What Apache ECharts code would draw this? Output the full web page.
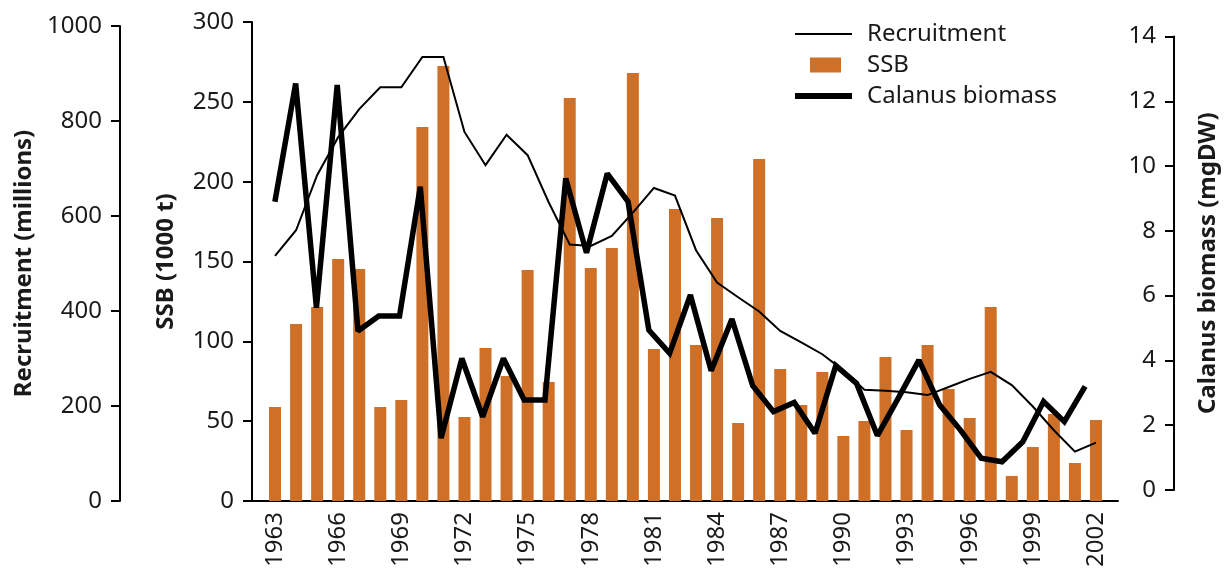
<!DOCTYPE html>
<html>
<head>
<meta charset="utf-8">
<script src="https://cdn.jsdelivr.net/npm/echarts@6/dist/echarts.min.js"></script>
<style>
html,body{margin:0;padding:0;background:#fff;}
#c{width:1228px;height:572px;}
</style>
</head>
<body>
<div id="c"></div>
<script>
const years = ['1963','1964','1965','1966','1967','1968','1969','1970','1971','1972',
  '1973','1974','1975','1976','1977','1978','1979','1980','1981','1982',
  '1983','1984','1985','1986','1987','1988','1989','1990','1991','1992',
  '1993','1994','1995','1996','1997','1998','1999','2000','2001','2002'];
const ssb = [58.9,110.9,121.5,151.6,145.3,58.9,63.3,234.2,272.4,52.6,
  95.8,78.3,144.7,74.5,252.4,145.9,158.5,268.1,95.2,182.9,
  97.7,177.2,48.9,214.2,82.7,60.1,80.8,40.7,50.1,90.2,
  44.5,97.7,70.1,52.0,121.5,15.7,33.8,54.5,23.8,50.7];
const recruitment = [516,570,686,766,825,871,871,935,935,777,
  707,771,728,629,540,537,558,607,659,643,
  528,460,429,399,358,334,309,275,234,232,
  229,223,240,257,272,244,199,149,104,123];
const calanus = [8.90,12.55,5.63,12.50,4.91,5.37,5.37,9.36,1.60,4.06,
  2.26,4.06,2.78,2.78,9.62,7.32,9.77,8.90,4.94,4.22,
  6.02,3.68,5.28,3.22,2.42,2.70,1.75,3.84,3.29,1.68,
  2.83,4.01,2.62,1.85,0.98,0.87,1.49,2.73,2.11,3.20];
const names = {rec:'Recruitment', ssb:'SSB', cal:'Calanus biomass'};
const axisTitles = {rec:'Recruitment (millions)', ssb:'SSB (1000 t)', cal:'Calanus biomass (mgDW)'};

const FONT = '"Noto Sans", "Open Sans", sans-serif';
const TXT = '#1a1a1a';
const ORANGE = '#CF7029';
const gl = 264.5, gr = 121.5;
const plain = (v) => String(v);

const hiddenX = (gi) => ({type:'category', gridIndex:gi, data:years, boundaryGap:true, show:false});
const yCommon = {
  axisLine:{show:true, lineStyle:{color:'#000', width:2}},
  axisTick:{show:true, length:9, lineStyle:{color:'#000', width:2}},
  splitLine:{show:false},
  axisLabel:{fontFamily:FONT, fontSize:24, color:TXT, margin:18, formatter:plain},
  nameLocation:'middle', nameRotate:90,
  nameTextStyle:{fontFamily:FONT, fontSize:24, fontWeight:'bold', color:TXT}
};

const chart = echarts.init(document.getElementById('c'), null, {renderer:'canvas'});
chart.setOption({
  animation:false,
  backgroundColor:'#fff',
  grid:[
    {left:gl, right:gr, top:22, bottom:71},
    {left:252, right:110, top:22, bottom:71},
    {left:gl, right:gr, top:26, bottom:71},
    {left:gl, right:gr, top:36.5, bottom:82}
  ],
  xAxis:[
    {type:'category', gridIndex:0, data:years, boundaryGap:true,
     axisLine:{show:false}, axisTick:{show:false},
     axisLabel:{interval:2, rotate:90, fontFamily:FONT, fontSize:24, color:TXT, margin:11}},
    {type:'category', gridIndex:1, data:years, boundaryGap:true,
     axisLine:{show:true, lineStyle:{color:'#000', width:2}}, axisTick:{show:false}, axisLabel:{show:false}},
    hiddenX(2), hiddenX(3)
  ],
  yAxis:[
    Object.assign({}, yCommon, {type:'value', gridIndex:0, min:0, max:300, interval:50, position:'left', offset:12.5,
      name:axisTitles.ssb, nameGap:74}),
    {type:'value', gridIndex:1, show:false},
    Object.assign({}, yCommon, {type:'value', gridIndex:2, min:0, max:1000, interval:200, position:'left', offset:144.5,
      name:axisTitles.rec, nameGap:82}),
    Object.assign({}, yCommon, {type:'value', gridIndex:3, min:0, max:14, interval:2, position:'right', offset:78.5,
      axisTick:{show:true, inside:true, length:9, lineStyle:{color:'#000', width:2}},
      axisLabel:{inside:true, fontFamily:FONT, fontSize:24, color:TXT, margin:18, formatter:plain},
      name:axisTitles.cal, nameGap:22})
  ],
  legend:[
    {data:[names.rec], left:790, top:15, itemWidth:57, itemHeight:2, icon:'rect', selectedMode:false,
     textStyle:{fontFamily:FONT, fontSize:24, color:TXT, lineHeight:28, padding:[0,0,0,10]}},
    {data:[names.ssb], left:805, top:46, itemWidth:31, itemHeight:15, icon:'rect', selectedMode:false,
     textStyle:{fontFamily:FONT, fontSize:24, color:TXT, lineHeight:28, padding:[0,0,0,21]}},
    {data:[names.cal], left:790, top:77, itemWidth:57, itemHeight:6, icon:'rect', selectedMode:false,
     textStyle:{fontFamily:FONT, fontSize:24, color:TXT, lineHeight:28, padding:[0,0,0,10]}}
  ],
  series:[
    {name:names.ssb, type:'bar', xAxisIndex:0, yAxisIndex:0, data:ssb, barWidth:12,
     itemStyle:{color:ORANGE}, z:2},
    {name:names.rec, type:'line', xAxisIndex:2, yAxisIndex:2, data:recruitment, showSymbol:false, symbol:'none',
     itemStyle:{color:'#000'}, lineStyle:{color:'#000', width:2, join:'miter', miterLimit:4}, z:3},
    {name:names.cal, type:'line', xAxisIndex:3, yAxisIndex:3, data:calanus, showSymbol:false, symbol:'none',
     itemStyle:{color:'#000'}, lineStyle:{color:'#000', width:5.5, join:'miter', miterLimit:2}, z:4}
  ]
});
</script>
</body>
</html>
